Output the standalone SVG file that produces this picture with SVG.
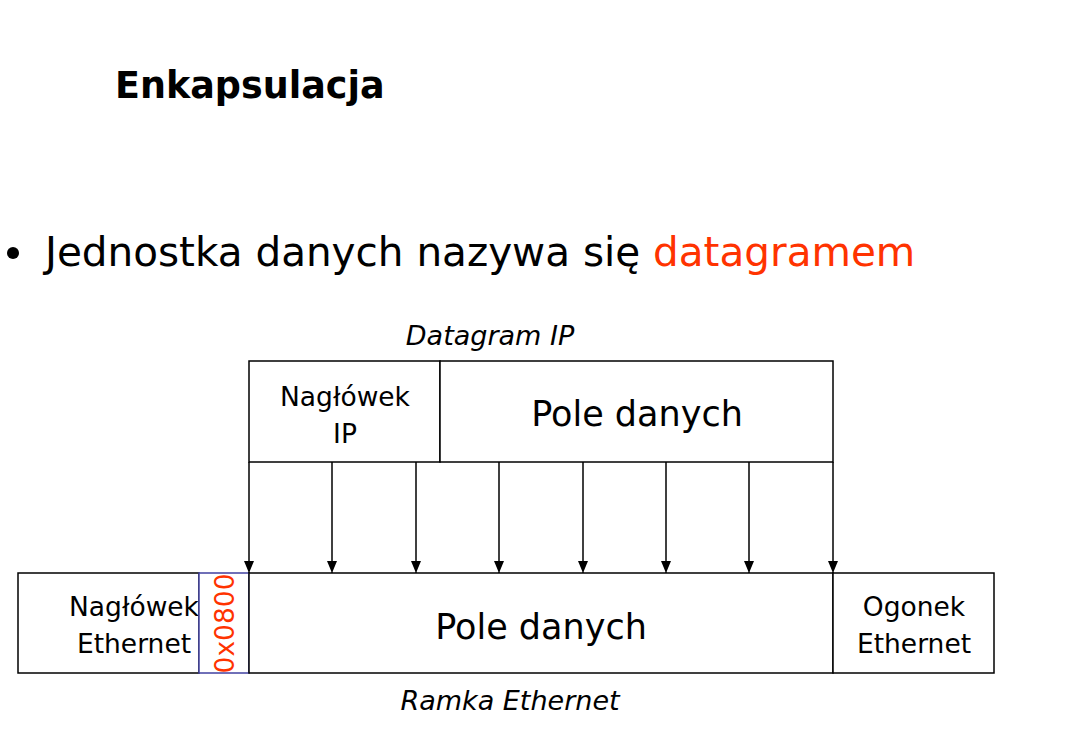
<svg xmlns="http://www.w3.org/2000/svg" width="1067" height="733" viewBox="0 0 1067 733">
<defs>
<marker id="arr" markerWidth="10" markerHeight="12" refX="12" refY="5" orient="auto" markerUnits="userSpaceOnUse">
<path d="M0,0 L12,5 L0,10 Z" fill="#000"/>
</marker>
</defs>
<style>
text{font-family:"DejaVu Sans","Verdana",sans-serif;fill:#000}
.box{fill:#fff;stroke:#000;stroke-width:1.5}
.lbl{font-size:26.5px;text-anchor:middle}
.big{font-size:35px;text-anchor:middle}
.it{font-size:27px;font-style:italic;text-anchor:middle}
.conn{stroke:#000;stroke-width:1.5;fill:none;marker-end:url(#arr)}
</style>
<rect width="1067" height="733" fill="#fff"/>
<text x="115" y="98" font-size="36.5" font-weight="bold">Enkapsulacja</text>
<circle cx="13" cy="253" r="6" fill="#000"/>
<text x="45" y="266" font-size="40.5">Jednostka danych nazywa się <tspan style="fill:#ff3300">datagramem</tspan></text>
<g id="datagram">
<text class="it" x="490" y="345">Datagram IP</text>
<g id="ip-header">
<rect class="box" x="249" y="361" width="191" height="101"/>
<text class="lbl" x="345" y="406">Nagłówek</text>
<text class="lbl" x="345" y="443">IP</text>
</g>
<g id="ip-data">
<rect class="box" x="440" y="361" width="393" height="101"/>
<text class="big" x="637" y="426">Pole danych</text>
</g>
</g>
<g id="frame">
<g id="eth-header">
<rect class="box" x="18" y="573" width="181" height="100"/>
<text class="lbl" x="134" y="616">Nagłówek</text>
<text class="lbl" x="134" y="653">Ethernet</text>
</g>
<g id="eth-type">
<rect x="199" y="573" width="50" height="100" fill="#fff" stroke="#4040a0" stroke-width="1.5"/>
<text class="lbl" transform="translate(234 623.5) rotate(-90)" style="fill:#ff3300">0x0800</text>
</g>
<g id="eth-data">
<rect class="box" x="249" y="573" width="584" height="100"/>
<text class="big" x="541" y="639">Pole danych</text>
</g>
<g id="eth-trailer">
<rect class="box" x="833" y="573" width="161" height="100"/>
<text class="lbl" x="914" y="616">Ogonek</text>
<text class="lbl" x="914" y="653">Ethernet</text>
</g>
<text class="it" x="510" y="710">Ramka Ethernet</text>
</g>
<g id="connectors">
<line class="conn" x1="249" y1="462" x2="249" y2="573"/>
<line class="conn" x1="332" y1="462" x2="332" y2="573"/>
<line class="conn" x1="416" y1="462" x2="416" y2="573"/>
<line class="conn" x1="499" y1="462" x2="499" y2="573"/>
<line class="conn" x1="583" y1="462" x2="583" y2="573"/>
<line class="conn" x1="666" y1="462" x2="666" y2="573"/>
<line class="conn" x1="749" y1="462" x2="749" y2="573"/>
<line class="conn" x1="833" y1="462" x2="833" y2="573"/>
</g>
</svg>
